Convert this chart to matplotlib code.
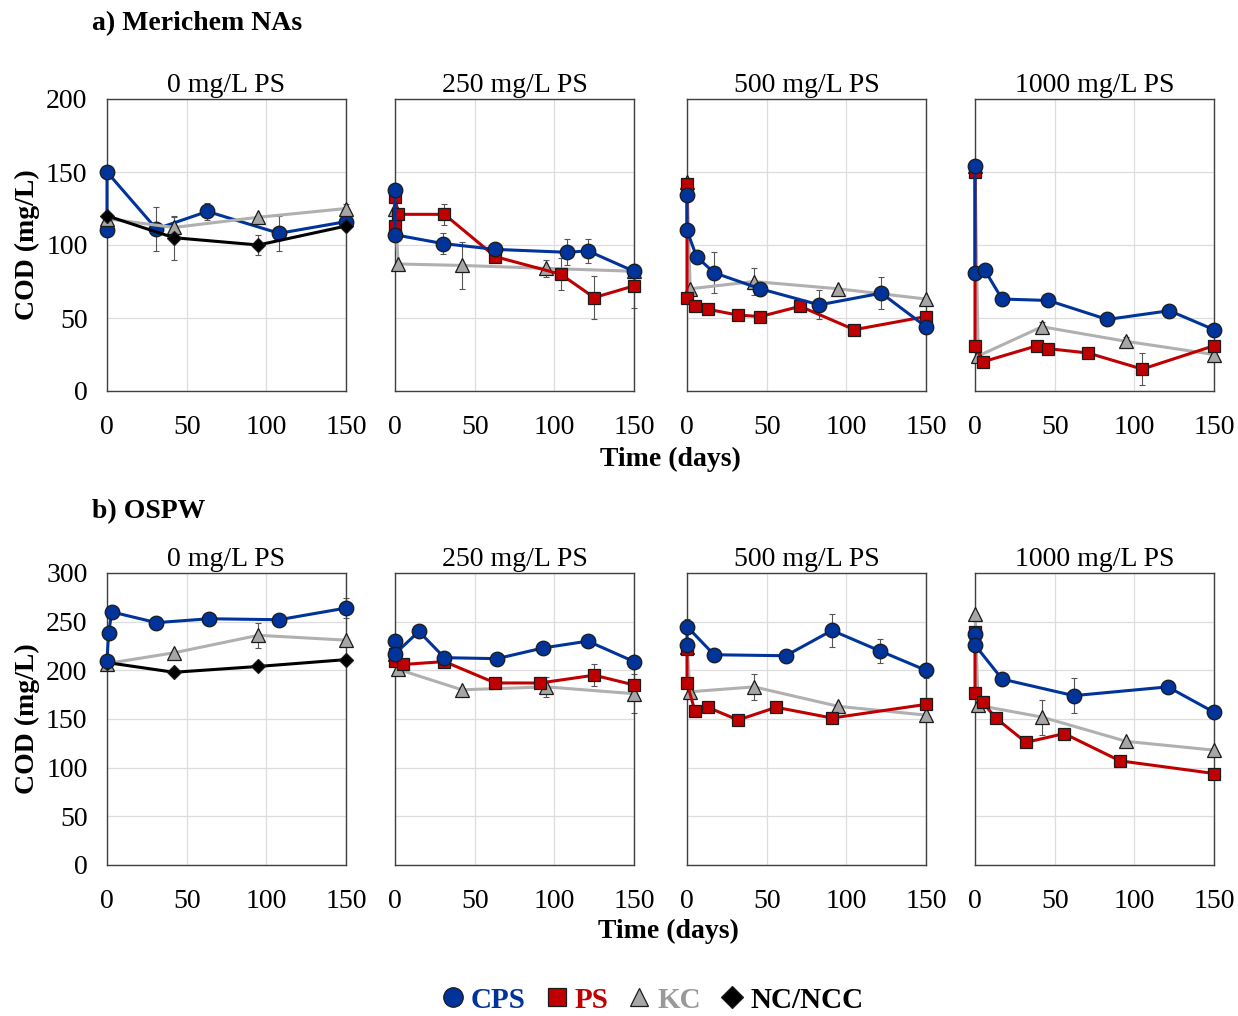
import matplotlib
matplotlib.use("Agg")
import matplotlib.pyplot as plt
from matplotlib.lines import Line2D

plt.rcParams['font.family'] = ['Liberation Serif', 'DejaVu Serif']

# ---- data: (days, COD mg/L, error) ----
PANEL_TITLES = ["0 mg/L PS", "250 mg/L PS", "500 mg/L PS", "1000 mg/L PS"]
X_TICKS = [0, 50, 100, 150]

# a) Merichem NAs
A0_CPS = ([0, 0, 31, 63, 108, 150], [110, 150, 111, 123, 108, 116], [0, 0, 15, 6, 12, 3])
A0_KC = ([0, 42, 95, 150], [118, 112, 119, 125], [0, 7, 0, 3])
A0_NC = ([0, 42, 95, 150], [120, 105, 100, 113], [0, 15, 7, 2])

A1_CPS = ([0, 0, 30, 63, 108, 121, 150], [138, 107, 101, 97, 95, 96, 82], [0, 0, 7, 4, 9, 8, 0])
A1_PS = ([0, 0, 2, 31, 63, 104, 125, 150], [113, 133, 121, 121, 92, 80, 64, 72], [0, 0, 0, 7, 0, 11, 15, 15])
A1_KC = ([0, 2, 42, 95, 150], [125, 87, 86, 84, 82], [0, 0, 16, 6, 0])

A2_CPS = ([0, 0, 6, 17, 46, 83, 122, 150], [134, 110, 92, 81, 70, 59, 67, 44], [0, 0, 0, 14, 5, 10, 11, 3])
A2_PS = ([0, 0, 5, 13, 32, 46, 71, 105, 150], [142, 64, 58, 56, 52, 51, 58, 42, 51], [0, 0, 0, 0, 3, 3, 0, 3, 0])
A2_KC = ([0, 2, 42, 95, 150], [143, 70, 75, 70, 63], [0, 0, 9, 0, 0])

A3_CPS = ([0, 0, 6, 17, 46, 83, 122, 150], [154, 81, 83, 63, 62, 49, 55, 42], [0, 0, 0, 3, 2, 4, 0, 0])
A3_PS = ([0, 0, 5, 39, 46, 71, 105, 150], [150, 31, 20, 31, 29, 26, 15, 31], [0, 0, 0, 0, 0, 2, 11, 0])
A3_KC = ([0, 2, 42, 95, 150], [154, 24, 44, 34, 25], [0, 0, 3, 3, 0])

# b) OSPW
B0_CPS = ([0, 1, 3, 31, 64, 108, 150], [210, 238, 260, 249, 253, 252, 264], [0, 0, 0, 0, 3, 3, 10])
B0_KC = ([0, 42, 95, 150], [207, 218, 236, 231], [0, 0, 13, 0])
B0_NC = ([0, 42, 95, 150], [208, 198, 204, 211], [0, 0, 3, 0])

B1_CPS = ([0, 0, 15, 31, 64, 93, 121, 150], [230, 217, 240, 213, 212, 223, 230, 209], [0, 0, 0, 0, 0, 0, 4, 0])
B1_PS = ([0, 0, 5, 31, 63, 91, 125, 150], [217, 210, 206, 209, 187, 187, 195, 185], [0, 0, 0, 0, 4, 3, 11, 0])
B1_KC = ([0, 2, 42, 95, 150], [217, 201, 180, 183, 176], [0, 0, 0, 10, 20])

B2_CPS = ([0, 0, 17, 62, 91, 121, 150], [226, 245, 216, 215, 241, 220, 200], [0, 8, 5, 4, 17, 12, 8])
B2_PS = ([0, 0, 5, 13, 32, 56, 91, 150], [222, 187, 158, 162, 149, 162, 151, 165], [0, 0, 0, 0, 0, 0, 0, 0])
B2_KC = ([0, 2, 42, 95, 150], [224, 178, 183, 163, 154], [0, 0, 13, 0, 0])

B3_CPS = ([0, 0, 17, 62, 121, 150], [237, 226, 191, 174, 183, 157], [0, 0, 0, 18, 0, 0])
B3_PS = ([0, 0, 5, 13, 32, 56, 91, 150], [239, 177, 167, 151, 126, 135, 107, 94], [0, 0, 0, 0, 0, 5, 0, 0])
B3_KC = ([0, 2, 42, 95, 150], [258, 164, 152, 127, 118], [0, 0, 18, 0, 0])

ROW_A = [[("CPS", A0_CPS), ("KC", A0_KC), ("NC", A0_NC)],
         [("KC", A1_KC), ("PS", A1_PS), ("CPS", A1_CPS)],
         [("KC", A2_KC), ("PS", A2_PS), ("CPS", A2_CPS)],
         [("KC", A3_KC), ("PS", A3_PS), ("CPS", A3_CPS)]]
ROW_B = [[("KC", B0_KC), ("NC", B0_NC), ("CPS", B0_CPS)],
         [("KC", B1_KC), ("PS", B1_PS), ("CPS", B1_CPS)],
         [("KC", B2_KC), ("PS", B2_PS), ("CPS", B2_CPS)],
         [("KC", B3_KC), ("PS", B3_PS), ("CPS", B3_CPS)]]

# ---- styles ----
STYLE = {
    "CPS": dict(color="#00349A", mfc="#00349A", marker="o", ms=10.5),
    "PS": dict(color="#C00000", mfc="#C00000", marker="s", ms=9),
    "KC": dict(color="#B0B0B0", mfc="#A6A6A6", marker="^", ms=10),
    "NC": dict(color="#000000", mfc="#000000", marker="D", ms=7.5),
}
LEG_TEXT = {"CPS": "#00349A", "PS": "#C00000", "KC": "#999999", "NC": "#000000"}
LEG_LABEL = {"CPS": "CPS", "PS": "PS", "KC": "KC", "NC": "NC/NCC"}

FS = 20
W, H = 1238, 1016
fig = plt.figure(figsize=(W / 100, H / 100), dpi=100)

lefts = [107, 395, 687, 975]
rows = [(99, ROW_A, 200, [0, 50, 100, 150, 200]),
        (573, ROW_B, 300, [0, 50, 100, 150, 200, 250, 300])]


def draw_series(ax, key, data):
    t, y, e = data
    st = STYLE[key]
    ax.errorbar(t, y, yerr=e, fmt="none", ecolor="#555555", elinewidth=0.8,
                capsize=2.5, capthick=0.8, zorder=2, clip_on=False)
    ax.plot(t, y, color=st["color"], lw=2.2, marker=st["marker"], ms=st["ms"],
            mfc=st["mfc"], mec="#1a1a1a", mew=0.9, zorder=3, clip_on=False)


for top, row, ymax, yticks in rows:
    for i, (left, series) in enumerate(zip(lefts, row)):
        ax = fig.add_axes([left / W, 1 - (top + 292) / H, 239 / W, 292 / H])
        for key, data in series:
            draw_series(ax, key, data)
        ax.set_xlim(0, 150)
        ax.set_ylim(0, ymax)
        ax.set_xticks(X_TICKS)
        ax.set_yticks(yticks)
        ax.grid(True, color="#dddddd", lw=0.9, zorder=0)
        ax.set_axisbelow(True)
        ax.tick_params(length=0, labelsize=FS)
        ax.tick_params(axis="x", pad=17)
        if i > 0:
            ax.set_yticklabels([])
        else:
            ax.tick_params(axis="y", pad=14)
            ax.set_ylabel("COD (mg/L)", fontsize=FS, fontweight="bold", labelpad=4)
        for sp in ax.spines.values():
            sp.set_color("#404040")
            sp.set_linewidth(1.0)
        ax.set_title(PANEL_TITLES[i], fontsize=FS, pad=5)

fig.text(92 / W, 1 - 24 / H, "a) Merichem NAs", fontsize=FS, fontweight="bold", va="center")
fig.text(92 / W, 1 - 512 / H, "b) OSPW", fontsize=FS, fontweight="bold", va="center")
fig.text(670 / W, 1 - 459 / H, "Time (days)", fontsize=FS, fontweight="bold", ha="center", va="center")
fig.text(668 / W, 1 - 931 / H, "Time (days)", fontsize=FS, fontweight="bold", ha="center", va="center")

handles = []
for key in ["CPS", "PS", "KC", "NC"]:
    st = STYLE[key]
    handles.append(Line2D([], [], ls="none", marker=st["marker"], ms=st["ms"] + 3.5,
                          mfc=st["mfc"], mec="#1a1a1a", mew=0.9))
leg = fig.legend(handles, [LEG_LABEL[k] for k in ["CPS", "PS", "KC", "NC"]],
                 loc="center", bbox_to_anchor=(653 / W, 1 - 1000 / H), ncol=4,
                 frameon=False, handlelength=0.7, handletextpad=0.28, columnspacing=0.7,
                 borderpad=0.2, prop=dict(size=FS + 1, weight="bold"))
for txt, key in zip(leg.get_texts(), ["CPS", "PS", "KC", "NC"]):
    txt.set_color(LEG_TEXT[key])

fig.savefig("out.png", dpi=100)
